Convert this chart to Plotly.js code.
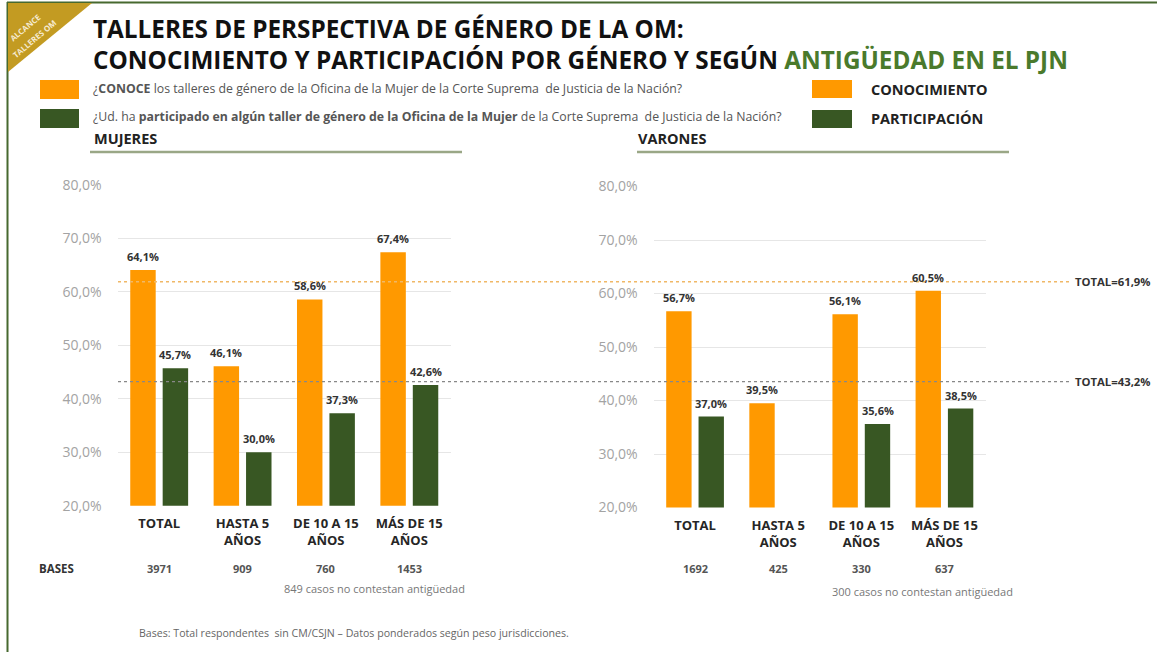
<!DOCTYPE html>
<html>
<head>
<meta charset="utf-8">
<script src="https://cdn.plot.ly/plotly-3.0.1.min.js"></script>
<style>html,body{margin:0;padding:0;background:#fff;}#chart{width:1157px;height:652px;}</style>
</head>
<body>
<div id="chart"></div>
<script>
// ---- Data ----
const categories = ['TOTAL', 'HASTA 5<br>AÑOS', 'DE 10 A 15<br>AÑOS', 'MÁS DE 15<br>AÑOS'];
const mujeresConoce = [64.1, 46.1, 58.6, 67.4];
const mujeresParticipa = [45.7, 30.0, 37.3, 42.6];
const varonesConoce = [56.7, 39.5, 56.1, 60.5];
const varonesParticipa = [37.0, null, 35.6, 38.5];
const mujeresBases = ['3971', '909', '760', '1453'];
const varonesBases = ['1692', '425', '330', '637'];
const totalConoce = 61.9;
const totalParticipa = 43.2;
const yTicks = [20, 30, 40, 50, 60, 70, 80];

const ORANGE = '#FF9900';
const GREEN = '#385723';
const W = 1157, H = 652;
const px = x => x / W;
const py = y => 1 - y / H;
const fmt = v => v.toFixed(1).replace('.', ',');
const yTickText = yTicks.map(v => fmt(v) + '%');
const FONT = 'Open Sans, Liberation Sans, sans-serif';

function barTrace(y, color, xa, ya) {
  return {type: 'bar', x: categories, y: y, xaxis: xa, yaxis: ya,
    marker: {color: color}, hoverinfo: 'skip'};
}
const data = [
  barTrace(mujeresConoce, ORANGE, 'x', 'y'),
  barTrace(mujeresParticipa, GREEN, 'x', 'y'),
  barTrace(varonesConoce, ORANGE, 'x2', 'y2'),
  barTrace(varonesParticipa, GREEN, 'x2', 'y2')
];

const annotations = [];
function barLabels(vals, xr, yr, shift) {
  vals.forEach((v, i) => {
    if (v === null) return;
    annotations.push({xref: xr, yref: yr, x: categories[i], y: v, xshift: shift, yshift: 4,
      yanchor: 'bottom', xanchor: 'center', showarrow: false,
      text: '<b>' + fmt(v) + '%</b>', font: {family: FONT, size: 11, color: '#333'}});
  });
}
barLabels(mujeresConoce, 'x', 'y', -16.25);
barLabels(mujeresParticipa, 'x', 'y', 16.25);
barLabels(varonesConoce, 'x2', 'y2', -16.25);
barLabels(varonesParticipa, 'x2', 'y2', 16.25);

function bases(vals, xr) {
  vals.forEach((b, i) => {
    annotations.push({xref: xr, yref: 'paper', x: categories[i], y: py(568), yanchor: 'middle',
      showarrow: false, text: '<b>' + b + '</b>', font: {family: FONT, size: 11, color: '#555'}});
  });
}
bases(mujeresBases, 'x');
bases(varonesBases, 'x2');

function txt(x, y, text, size, color, anchor, extra) {
  annotations.push(Object.assign({xref: 'paper', yref: 'paper', x: px(x), y: py(y),
    xanchor: anchor || 'left', yanchor: 'middle', showarrow: false, text: text,
    font: {family: FONT, size: size, color: color}}, extra || {}));
}
// Title
txt(91, 29, '<b>TALLERES DE PERSPECTIVA DE GÉNERO DE LA OM:</b>', 24.3, '#111');
txt(91, 59, '<b>CONOCIMIENTO Y PARTICIPACIÓN POR GÉNERO Y SEGÚN <span style="color:#4a7a2c">ANTIGÜEDAD EN EL PJN</span></b>', 24.3, '#111');
// Question legend
txt(91, 88, '¿<b>CONOCE</b> los talleres de género de la Oficina de la Mujer de la Corte Suprema  de Justicia de la Nación?', 12.3, '#555');
txt(91, 117, '¿Ud. ha <b>participado en algún taller de género de la Oficina de la Mujer</b> de la Corte Suprema  de Justicia de la Nación?', 12.3, '#555');
txt(869, 89, '<b>CONOCIMIENTO</b>', 14.5, '#222');
txt(869, 119, '<b>PARTICIPACIÓN</b>', 14.5, '#222');
txt(92, 138, '<b>MUJERES</b>', 14.5, '#222');
txt(636, 138, '<b>VARONES</b>', 14.5, '#222');
txt(37, 568, '<b>BASES</b>', 11.5, '#333');
txt(282, 588, '849 casos no contestan antigüedad', 11, '#777');
txt(830, 591, '300 casos no contestan antigüedad', 11, '#777');
txt(137, 633, 'Bases: Total respondentes  sin CM/CSJN – Datos ponderados según peso jurisdicciones.', 10.6, '#666');
// Badge text
txt(25, 28, '<b>ALCANCE</b>', 8, '#f6ead0', 'center', {textangle: -40});
txt(34, 38, '<b>TALLERES OM</b>', 8, '#f6ead0', 'center', {textangle: -40});
// Total labels
annotations.push({xref: 'paper', yref: 'y', x: px(1073), y: totalConoce, xanchor: 'left', yanchor: 'middle',
  showarrow: false, text: '<b>TOTAL=' + fmt(totalConoce) + '%</b>', font: {family: FONT, size: 11.3, color: '#333'}});
annotations.push({xref: 'paper', yref: 'y', x: px(1073), y: totalParticipa, xanchor: 'left', yanchor: 'middle',
  showarrow: false, text: '<b>TOTAL=' + fmt(totalParticipa) + '%</b>', font: {family: FONT, size: 11.3, color: '#333'}});

const shapes = [
  // frame
  {type: 'line', xref: 'paper', yref: 'paper', x0: px(7), x1: 1, y0: py(2.5), y1: py(2.5), line: {color: '#47692f', width: 2}},
  {type: 'line', xref: 'paper', yref: 'paper', x0: px(7.5), x1: px(7.5), y0: 0, y1: py(2), line: {color: '#47692f', width: 2}},
  // badge
  {type: 'path', xref: 'paper', yref: 'paper', fillcolor: '#c39b22', line: {width: 0},
    path: 'M ' + px(8) + ',' + py(3) + ' L ' + px(92) + ',' + py(3) + ' L ' + px(8) + ',' + py(72) + ' Z'},
  // legend squares
  {type: 'rect', xref: 'paper', yref: 'paper', x0: px(40), x1: px(79), y0: py(80), y1: py(99), fillcolor: ORANGE, line: {width: 0}},
  {type: 'rect', xref: 'paper', yref: 'paper', x0: px(40), x1: px(79), y0: py(109), y1: py(128), fillcolor: GREEN, line: {width: 0}},
  {type: 'rect', xref: 'paper', yref: 'paper', x0: px(812), x1: px(852), y0: py(80), y1: py(98), fillcolor: ORANGE, line: {width: 0}},
  {type: 'rect', xref: 'paper', yref: 'paper', x0: px(812), x1: px(852), y0: py(110), y1: py(128), fillcolor: GREEN, line: {width: 0}},
  // underlines
  {type: 'line', xref: 'paper', yref: 'paper', x0: px(90), x1: px(462), y0: py(152), y1: py(152), line: {color: '#9aa786', width: 2.5}},
  {type: 'line', xref: 'paper', yref: 'paper', x0: px(637), x1: px(1009), y0: py(152), y1: py(152), line: {color: '#9aa786', width: 2.5}},
  // total lines
  {type: 'line', xref: 'paper', yref: 'y', x0: px(118), x1: px(1070), y0: totalConoce, y1: totalConoce, line: {color: '#f0b867', width: 1.3, dash: 'dot'}},
  {type: 'line', xref: 'paper', yref: 'y', x0: px(118), x1: px(1070), y0: totalParticipa, y1: totalParticipa, line: {color: '#888', width: 1.2, dash: 'dot'}}
];

function xAxis(domain, anchor) {
  return {domain: domain, anchor: anchor, type: 'category', showgrid: false, zeroline: false, showline: false,
    ticks: 'outside', ticklen: 6, tickcolor: 'rgba(0,0,0,0)',
    tickfont: {family: FONT, size: 13, color: '#262626', weight: 'bold'}, fixedrange: true};
}
function yAxis(domain, anchor) {
  return {domain: domain, anchor: anchor, range: [20, 80], tickmode: 'array', tickvals: yTicks, ticktext: yTickText,
    showgrid: true, gridcolor: '#e6e6e6', gridwidth: 1, zeroline: false, showline: false,
    ticks: 'outside', ticklen: 12, tickcolor: 'rgba(0,0,0,0)',
    tickfont: {family: FONT, size: 14, color: '#a3a3a3'}, fixedrange: true};
}

const layout = {
  width: W, height: H, margin: {l: 0, r: 0, t: 0, b: 0, pad: 0},
  paper_bgcolor: '#fff', plot_bgcolor: '#fff', showlegend: false,
  separators: ',.', barmode: 'group', bargap: 0.222, bargroupgap: 0.215,
  xaxis: xAxis([px(117.5), px(451)], 'y'),
  yaxis: yAxis([py(505.7), py(185)], 'x'),
  xaxis2: xAxis([px(653.5), px(986)], 'y2'),
  yaxis2: yAxis([py(507.5), py(186.5)], 'x2'),
  annotations: annotations, shapes: shapes
};

Plotly.newPlot('chart', data, layout, {displayModeBar: false, staticPlot: true});
</script>
</body>
</html>
